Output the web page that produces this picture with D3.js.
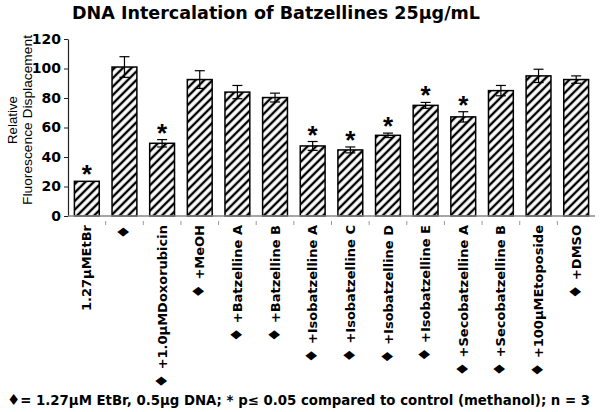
<!DOCTYPE html>
<html>
<head>
<meta charset="utf-8">
<script src="https://cdn.jsdelivr.net/npm/d3@7"></script>
<style>
	body { margin: 0; background: #fff; }
	svg text { font-family: "DejaVu Sans", sans-serif; fill: #000; }
	.plain { font-family: "Liberation Sans", Arial, sans-serif; }
	.dia { font-family: "DejaVu Sans", sans-serif; }
</style>
</head>
<body>
<svg id="chart" width="601" height="412"></svg>
<script>

// values
const CATEGORIES = ['1.27µMEtBr', '♦', '♦+1.0µMDoxorubicin', '♦+MeOH', '♦+Batzelline A', '♦+Batzelline B',
	'♦+Isobatzelline A', '♦+Isobatzelline C', '♦+Isobatzelline D', '♦+Isobatzelline E',
	'♦+Secobatzelline A', '♦+Secobatzelline B', '♦+100µMEtoposide', '♦+DMSO'];
const MEANS = [23.5, 101, 49.3, 92.5, 84, 80.3, 47.5, 44.8, 54.7, 75, 67.2, 85, 95, 92.5];
const ERRORS = [0, 7, 2.5, 6, 4.5, 3, 3, 2, 1.5, 2, 3.5, 3.5, 4.5, 2.5];
const SIGNIFICANT = [true, false, true, false, false, false, true, true, true, true, true, false, false, false];
const Y_TICKS = [0, 20, 40, 60, 80, 100, 120];

const TITLE = 'DNA Intercalation of Batzellines 25µg/mL';
const Y_LABEL = ['Relative', 'Fluorescence Displacement'];
const FOOTNOTE = '♦= 1.27µM EtBr, 0.5µg DNA; * p≤ 0.05 compared to control (methanol); n = 3';

const svg = d3.select('#chart');

const plot_left = 68, plot_right = 595, plot_top = 39, plot_bottom = 216;

const x = d3.scaleBand()
	.domain(CATEGORIES)
	.range([plot_left, plot_right])
	.paddingInner(0.34)
	.paddingOuter(0.17);

const y = d3.scaleLinear()
	.domain([0, 120])
	.range([plot_bottom, plot_top]);

// writes a string into a text element, the diamond in a bigger font
function writeWithDiamond(sel, str, diaSize) {
	const parts = str.split('♦');
	parts.forEach((p, i) => {
		if (i > 0) sel.append('tspan').classed('dia', true).style('font-size', diaSize + 'px').text('♦');
		if (p.length) sel.append('tspan').text(p);
	});
}

// hatch pattern
const pattern = svg.append('defs').append('pattern')
	.attr('id', 'hatch')
	.attr('patternUnits', 'userSpaceOnUse')
	.attr('width', 6)
	.attr('height', 6)
	.attr('patternTransform', 'rotate(45)');
pattern.append('rect').attr('width', 6).attr('height', 6).attr('fill', '#fff');
pattern.append('line')
	.attr('x1', 3).attr('y1', 0).attr('x2', 3).attr('y2', 6)
	.attr('stroke', '#000').attr('stroke-width', 2.4);

// title
svg.append('text')
	.attr('x', 72)
	.attr('y', 19)
	.attr('textLength', 408)
	.attr('lengthAdjust', 'spacingAndGlyphs')
	.style('font-size', '17px')
	.style('font-weight', 'bold')
	.text(TITLE);

// y label, two lines
svg.append('g')
	.attr('transform', 'translate(17,120) rotate(-90)')
	.selectAll('text')
	.data(Y_LABEL)
	.enter()
		.append('text')
		.classed('plain', true)
		.attr('x', 0)
		.attr('y', (d, i) => i * 15)
		.attr('text-anchor', 'middle')
		.attr('textLength', (d, i) => i ? 170 : 48)
		.attr('lengthAdjust', 'spacingAndGlyphs')
		.style('font-size', '13px')
		.text(d => d);

// bars
svg.append('g')
	.selectAll('rect')
	.data(MEANS)
	.enter()
		.append('rect')
		.attr('x', (d, i) => x(CATEGORIES[i]))
		.attr('y', d => y(d))
		.attr('width', x.bandwidth())
		.attr('height', d => y(0) - y(d))
		.attr('fill', 'url(#hatch)')
		.attr('stroke', '#000')
		.attr('stroke-width', 1.5);

// error bars
const err = svg.append('g')
	.selectAll('g')
	.data(MEANS.map((m, i) => ({ m: m, e: ERRORS[i], cx: x(CATEGORIES[i]) + x.bandwidth() / 2 })).filter(d => d.e > 0))
	.enter()
		.append('g')
		.attr('stroke', '#000')
		.attr('stroke-width', 1.2);
err.append('line')
	.attr('x1', d => d.cx).attr('x2', d => d.cx)
	.attr('y1', d => y(d.m - d.e)).attr('y2', d => y(d.m + d.e));
err.append('line')
	.attr('x1', d => d.cx - 5).attr('x2', d => d.cx + 5)
	.attr('y1', d => y(d.m + d.e)).attr('y2', d => y(d.m + d.e));
err.append('line')
	.attr('x1', d => d.cx - 5).attr('x2', d => d.cx + 5)
	.attr('y1', d => y(d.m - d.e)).attr('y2', d => y(d.m - d.e));

// asterisks
svg.append('g')
	.selectAll('text')
	.data(MEANS.map((m, i) => ({ m: m, e: ERRORS[i], c: CATEGORIES[i], s: SIGNIFICANT[i] })).filter(d => d.s))
	.enter()
		.append('text')
		.classed('plain', true)
		.attr('x', d => x(d.c) + x.bandwidth() / 2)
		.attr('y', d => y(d.m + d.e) + 2)
		.attr('text-anchor', 'middle')
		.style('font-size', '26px')
		.style('font-weight', 'bold')
		.text('*');

// y axis
const yAxis = svg.append('g')
	.attr('transform', `translate(${plot_left},0)`)
	.call(d3.axisLeft(y).tickValues(Y_TICKS).tickSize(4).tickPadding(3).tickSizeOuter(0));
yAxis.select('.domain').attr('stroke', '#222').attr('stroke-width', 1.2);
yAxis.selectAll('.tick line').attr('stroke', '#222');
yAxis.selectAll('.tick text')
	.style('font-size', '14px')
	.style('font-weight', 'bold')
	.style('font-family', '"DejaVu Sans", sans-serif')
	.attr('fill', '#000');

// x axis line
svg.append('line')
	.attr('x1', plot_left).attr('x2', plot_right)
	.attr('y1', y(0)).attr('y2', y(0))
	.attr('stroke', '#888').attr('stroke-width', 1.5);

// small marks between categories
const step = x.step();
svg.append('g')
	.selectAll('line')
	.data(CATEGORIES.slice(1))
	.enter()
		.append('line')
		.attr('x1', d => x(d) - step * x.paddingInner() / 2)
		.attr('x2', d => x(d) - step * x.paddingInner() / 2)
		.attr('y1', y(0) + 5).attr('y2', y(0) + 9)
		.attr('stroke', '#999').attr('stroke-width', 1);

// category labels, rotated
svg.append('g')
	.selectAll('text')
	.data(CATEGORIES)
	.enter()
		.append('text')
		.attr('transform', d => `translate(${x(d) + x.bandwidth() / 2},225) rotate(-90)`)
		.attr('text-anchor', 'end')
		.attr('dy', '0.35em')
		.style('font-size', '13px')
		.style('font-weight', 'bold')
		.each(function(d) { writeWithDiamond(d3.select(this), d.replace('♦+', '♦ +'), 16); });

// footnote
const foot = svg.append('text')
	.attr('x', 7)
	.attr('y', 405)
	.attr('textLength', 583)
	.attr('lengthAdjust', 'spacingAndGlyphs')
	.style('font-size', '13.5px')
	.style('font-weight', 'bold');
writeWithDiamond(foot, FOOTNOTE, 15);

</script>
</body>
</html>
